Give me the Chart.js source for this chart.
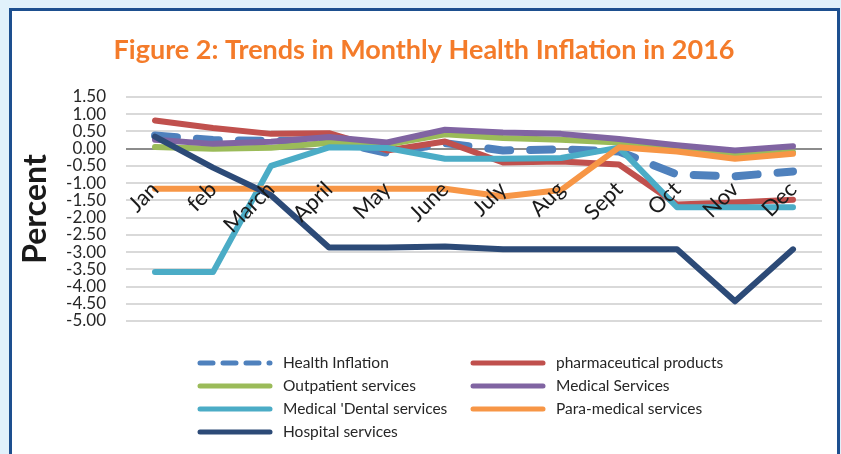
<!DOCTYPE html>
<html>
<head>
<meta charset="utf-8">
<script src="https://cdn.jsdelivr.net/npm/chart.js@4"></script>
<style>
  html, body { margin: 0; padding: 0; background: #e1f1fb; }
  #wrap { width: 841px; height: 454px; position: relative; }
</style>
</head>
<body>
<div id="wrap"><canvas id="healthChart" width="841" height="454"></canvas></div>
<script>
// months on the x axis
const months = ['Jan', 'feb', 'March', 'April', 'May', 'June', 'July', 'Aug', 'Sept', 'Oct', 'Nov', 'Dec'];

// monthly inflation, percent
const healthInflation = [0.38, 0.25, 0.23, 0.25, -0.12, 0.16, -0.05, -0.02, -0.08, -0.75, -0.80, -0.66];
const pharmaceutical = [0.82, 0.60, 0.43, 0.45, -0.05, 0.21, -0.40, -0.37, -0.46, -1.62, -1.56, -1.48];
const outpatient = [0.05, 0.00, 0.03, 0.17, 0.12, 0.42, 0.31, 0.26, 0.18, -0.02, -0.20, -0.10];
const medicalServices = [0.26, 0.14, 0.20, 0.34, 0.18, 0.55, 0.47, 0.43, 0.28, 0.10, -0.05, 0.07];
const dental = [-3.58, -3.58, -0.50, 0.04, 0.02, -0.29, -0.29, -0.27, 0.03, -1.70, -1.70, -1.70];
const paraMedical = [-1.16, -1.16, -1.16, -1.16, -1.16, -1.16, -1.39, -1.20, 0.04, -0.08, -0.29, -0.15];
const hospital = [0.35, -0.55, -1.35, -2.87, -2.87, -2.84, -2.92, -2.92, -2.92, -2.92, -4.43, -2.92];

const seriesNames = ['Health Inflation', 'pharmaceutical products', 'Outpatient services', 'Medical Services',
  "Medical 'Dental services", 'Para-medical services', 'Hospital services'];
const seriesData = [healthInflation, pharmaceutical, outpatient, medicalServices, dental, paraMedical, hospital];
const seriesColors = ['#4f81bd', '#c0504d', '#9bbb59', '#8064a2', '#4bacc6', '#f79646', '#2c4a77'];
const chartTitle = 'Figure 2: Trends in Monthly Health Inflation in 2016';

const datasets = seriesData.map((d, i) => ({
  label: seriesNames[i],
  data: d,
  borderColor: seriesColors[i],
  backgroundColor: seriesColors[i],
  borderWidth: i === 0 ? 8 : 6,
  borderDash: i === 0 ? [22, 20] : [],
  borderCapStyle: 'round',
  borderJoinStyle: 'round',
  pointRadius: 0,
  tension: 0,
  order: 7 - i,
}));

// white panel with blue border, plus the title
const panelPlugin = {
  id: 'panel',
  beforeDraw(chart) {
    const c = chart.ctx;
    c.save();
    c.fillStyle = '#e1f1fb';
    c.fillRect(0, 0, chart.width, chart.height);
    c.fillStyle = '#ffffff';
    c.fillRect(10, 10, 827, 460);
    c.strokeStyle = '#1d4f8f';
    c.lineWidth = 3;
    c.strokeRect(10.5, 9.5, 828, 470);
    c.font = 'bold 27px Lato';
    c.fillStyle = '#f47b2a';
    c.textAlign = 'center';
    c.textBaseline = 'middle';
    c.fillText(chartTitle, 424, 50);
    c.restore();
  }
};

// month labels, rotated, hanging under the zero line
const monthLabels = {
  id: 'monthLabels',
  afterDatasetsDraw(chart) {
    const c = chart.ctx;
    const xs = chart.scales.x, ys = chart.scales.y;
    const y0 = ys.getPixelForValue(0);
    c.save();
    c.font = '22px Lato';
    c.fillStyle = '#1a1a1a';
    c.textAlign = 'right';
    c.textBaseline = 'middle';
    months.forEach((m, i) => {
      const x = xs.getPixelForValue(i);
      c.save();
      c.translate(x, y0 + 37);
      c.rotate(-Math.PI / 4);
      c.fillText(m, 0, 0);
      c.restore();
    });
    c.restore();
  }
};

// two-column legend under the plot
const legendBox = {
  id: 'legendBox',
  afterDraw(chart) {
    const c = chart.ctx;
    const colX = [197, 470];
    const rowY = [363, 386, 409, 432];
    c.save();
    c.font = '15.5px Lato';
    c.fillStyle = '#262626';
    c.textBaseline = 'middle';
    c.lineCap = 'round';
    datasets.forEach((ds, i) => {
      const x = colX[i % 2];
      const y = rowY[Math.floor(i / 2)];
      c.strokeStyle = ds.borderColor;
      c.lineWidth = 5;
      c.setLineDash(i === 0 ? [13, 10] : []);
      c.beginPath();
      c.moveTo(x + 3, y);
      c.lineTo(x + 73, y);
      c.stroke();
      c.setLineDash([]);
      c.fillText(ds.label, x + 86, y);
    });
    c.restore();
  }
};

new Chart(document.getElementById('healthChart'), {
  type: 'line',
  data: { labels: months, datasets },
  plugins: [panelPlugin, monthLabels, legendBox],
  options: {
    responsive: false,
    animation: false,
    layout: { padding: { left: 0, right: 19, top: 97, bottom: 133 } },
    plugins: {
      legend: { display: false },
      tooltip: { enabled: false },
      title: { display: false },
    },
    scales: {
      x: {
        display: false,
        offset: true,
      },
      y: {
        min: -5,
        max: 1.5,
        afterFit(scale) { scale.width = 126; },
        ticks: {
          stepSize: 0.5,
          autoSkip: false,
          padding: 20,
          color: '#262626',
          font: { family: 'Lato', size: 17 },
          callback: v => v.toFixed(2),
        },
        grid: {
          drawTicks: false,
          lineWidth: 2,
          color: ctx => ctx.tick && ctx.tick.value === 0 ? '#8c8c8c' : '#d9d9d9',
        },
        border: { display: false },
        title: {
          display: true,
          text: 'Percent',
          color: '#1a1a1a',
          font: { family: 'Lato', size: 32, weight: 'bold' },
          padding: { top: 16, bottom: 0 },
        },
      },
    },
  },
});
</script>
</body>
</html>
